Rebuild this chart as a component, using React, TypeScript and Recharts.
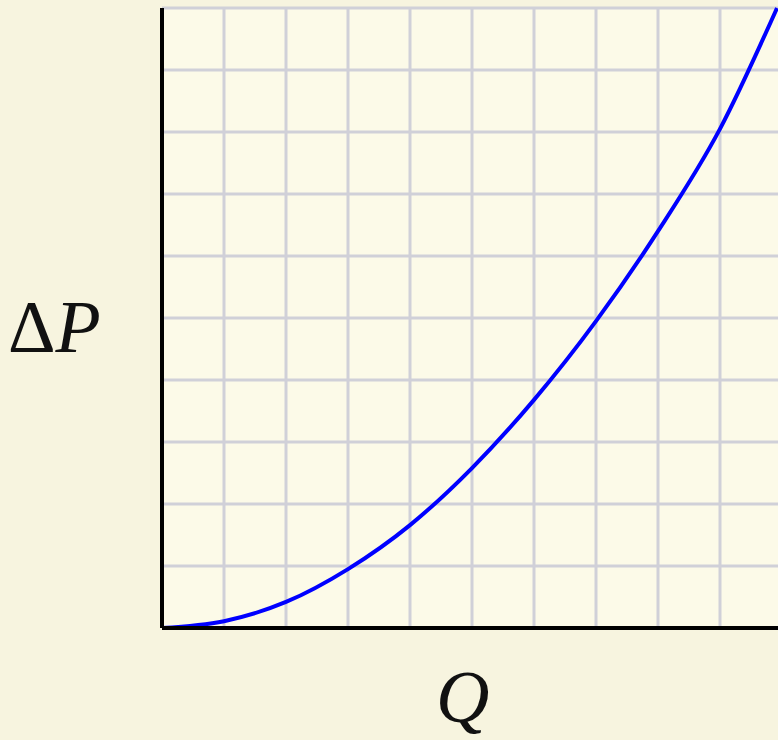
import { LineChart, Line, XAxis, YAxis, CartesianGrid } from "recharts";

// values
const flow = [0, 1, 2, 3, 4, 5, 6, 7, 8, 9, 9.92];
const pressureDrop = [0, 0.11, 0.42, 0.95, 1.66, 2.58, 3.68, 4.95, 6.4, 8.05, 10.0];
const gridTicks = [0, 1, 2, 3, 4, 5, 6, 7, 8, 9, 10];

const data = flow.map((q, i) => ({ q, dp: pressureDrop[i] }));

const labelStyle: React.CSSProperties = {
  position: "absolute",
  fontFamily: "'Liberation Serif', 'DejaVu Serif', serif",
  fontSize: 74,
  lineHeight: 1,
  color: "#111",
};

// ticks stay in place so the grid follows them, but draw nothing
const emptyTick = () => <g />;

export default function App() {
  return (
    <div
      style={{
        position: "absolute",
        left: 0,
        top: 0,
        width: 778,
        height: 740,
        overflow: "hidden",
        background: "#f7f4df",
      }}
    >
      <LineChart
        width={800}
        height={740}
        data={data}
        margin={{ top: 8, right: 18, bottom: 111, left: 161 }}
      >
        <CartesianGrid stroke="#d0d0d8" strokeWidth={3} fill="#fcfae8" />
        <XAxis
          type="number"
          dataKey="q"
          domain={[0, 10]}
          ticks={gridTicks}
          tick={emptyTick}
          tickLine={false}
          height={1}
          interval={0}
          axisLine={{ stroke: "#000", strokeWidth: 4 }}
        />
        <YAxis
          type="number"
          domain={[0, 10]}
          ticks={gridTicks}
          tick={emptyTick}
          tickLine={false}
          width={1}
          interval={0}
          axisLine={{ stroke: "#000", strokeWidth: 4 }}
        />
        <Line
          type="monotone"
          dataKey="dp"
          stroke="#0000ff"
          strokeWidth={4}
          dot={false}
          isAnimationActive={false}
        />
      </LineChart>
      <span style={{ ...labelStyle, left: 8, top: 290 }}>
        Δ<i>P</i>
      </span>
      <span style={{ ...labelStyle, left: 436, top: 660 }}>
        <i>Q</i>
      </span>
    </div>
  );
}
